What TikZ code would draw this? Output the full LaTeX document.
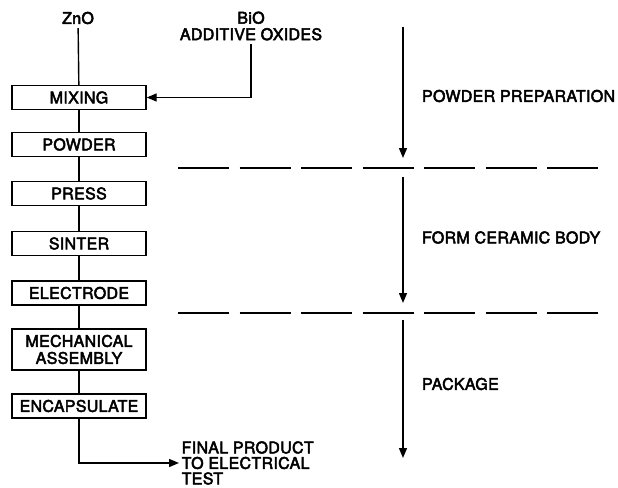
\documentclass[tikz,border=0pt]{standalone}
\usepackage{fontspec}
\setmainfont{TeX Gyre Heros}[LetterSpace=2, FakeBold=3]
\usetikzlibrary{arrows.meta}

\begin{document}
\begin{tikzpicture}[x=1pt, y=-1pt, line width=1.4pt,
  every node/.style={font=\fontsize{16}{17}\selectfont},
  stage/.style={draw, minimum width=134pt, minimum height=24pt, inner sep=2pt, align=center},
  tip/.style={-{Triangle[length=10pt,width=8pt]}},
  divide/.style={dash pattern=on 51pt off 10.5pt}]
\useasboundingbox (0,0) rectangle (618,487);

% process column
\node (zno) at (78,18) {ZnO};
\node [align=center, font=\fontsize{16}{16.5}\selectfont] (oxides) at (251,26) {BiO\\ADDITIVE OXIDES};

\node [stage] (mix) at (79,97.5) {MIXING};
\node [stage] (powder) at (79,144.5) {POWDER};
\node [stage] (press) at (79,193.5) {PRESS};
\node [stage] (sinter) at (79,243.5) {SINTER};
\node [stage] (electrode) at (79,293) {ELECTRODE};
\node [stage, minimum height=41pt] (assembly) at (79,349.5) {MECHANICAL\\ASSEMBLY};
\node [stage] (encap) at (79,406) {ENCAPSULATE};

\node [anchor=west, align=left, inner sep=2pt, font=\fontsize{16}{15.5}\selectfont] (final) at (179,463) {FINAL PRODUCT\\TO ELECTRICAL\\TEST};

\draw (zno) to (mix);
\draw [tip] (oxides) |- (mix);
\foreach \a/\b in {mix/powder, powder/press, press/sinter, sinter/electrode, electrode/assembly, assembly/encap}
  \draw (\a) to (\b);
\draw [tip] (encap) |- (final);

% stages
\coordinate (p0) at (403,27);
\coordinate (p1) at (403,158);
\coordinate (f0) at (403,177);
\coordinate (f1) at (403,303);
\coordinate (k0) at (403,320);
\coordinate (k1) at (403,458);

\draw [tip] (p0) to (p1);
\draw [tip] (f0) to (f1);
\draw [tip] (k0) to (k1);

\coordinate (d0) at (178,168);
\coordinate (d1) at (598,168);
\coordinate (e0) at (178,313);
\coordinate (e1) at (598,313);
\draw [divide] (d0) to (d1);
\draw [divide] (e0) to (e1);

\node [anchor=west] (prep) at (418,96) {POWDER PREPARATION};
\node [anchor=west] (body) at (418,237.5) {FORM CERAMIC BODY};
\node [anchor=west] (pack) at (418,384) {PACKAGE};
\end{tikzpicture}
\end{document}
